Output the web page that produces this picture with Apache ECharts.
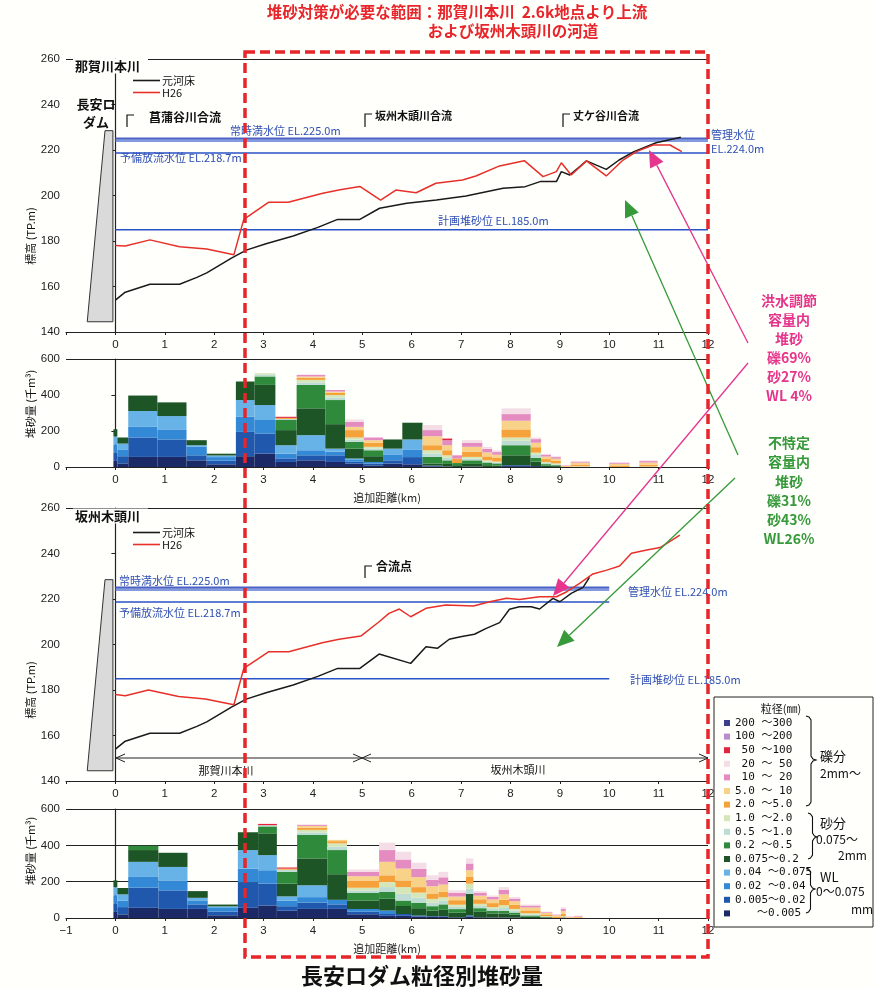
<!DOCTYPE html>
<html><head><meta charset="utf-8">
<script src="https://cdn.jsdelivr.net/npm/echarts/dist/echarts.min.js"></script>
<style>html,body{margin:0;padding:0;background:#fffffb}#main{width:875px;height:989px}</style>
</head><body><div id="main"></div>
<script>
// ---------------- data ----------------
const kmTicks = [-1,0,1,2,3,4,5,6,7,8,9,10,11,12];
const elevTicks = [140,160,180,200,220,240,260];
const volTicks = [0,200,400,600];

// 那賀川本川 profile [km, EL]
const nakaOrigBed = [[0,154],[0.2,157.5],[0.7,161],[1.3,161],[1.65,164],[1.85,166],[2.35,172.5],[2.65,176],[3.05,178.8],[3.6,182.2],[4.1,186],[4.5,189.5],[4.95,189.5],[5.35,194.4],[5.9,196.6],[6.5,198],[7.1,199.8],[7.85,203.2],[8.3,203.9],[8.6,206.1],[8.93,206.1],[9.03,210.5],[9.2,209],[9.54,215.2],[9.94,211.5],[10.2,215.6],[10.5,219.3],[10.95,223.2],[11.45,225.6]];
const nakaH26 = [[0,178],[0.2,177.8],[0.7,180.5],[1.3,177.5],[1.85,176.5],[2.4,174],[2.6,189.5],[3.1,197],[3.5,197],[4.2,201],[4.55,202.5],[4.95,204],[5.37,198],[5.68,202.4],[6.09,201.2],[6.49,205.4],[7.03,206.8],[7.3,208.6],[7.78,213],[8.28,215.3],[8.66,208.3],[8.93,210.5],[9.03,214.4],[9.23,209],[9.54,215.2],[9.94,208.6],[10.28,215.6],[10.55,219.3],[10.89,222.2],[11.23,222.2],[11.47,219.3]];
// 坂州木頭川 profile [km, EL]
const sakaOrigBed = [[0,154],[0.2,157.5],[0.7,161],[1.3,161],[1.65,164],[1.85,166],[2.35,172.5],[2.65,176],[3.05,178.8],[3.6,182.2],[4.1,186],[4.5,189.5],[4.95,189.5],[5.34,195.8],[5.98,191.7],[6.29,199],[6.52,198.3],[6.76,202.3],[6.99,203.4],[7.27,204.5],[7.51,207.1],[7.78,209.6],[7.98,215.5],[8.18,216.6],[8.42,216.6],[8.59,215.6],[8.86,220.3],[9.0,218.8],[9.23,222.5],[9.47,225.1],[9.6,229.5]];
const sakaH26 = [[0,178],[0.2,177.5],[0.67,180],[1.28,177.1],[1.82,176],[2.4,173.5],[2.6,189.5],[3.1,196.8],[3.51,196.8],[4.19,200.8],[4.53,202.3],[4.97,203.7],[5.34,210],[5.54,213.7],[5.75,215.6],[5.98,212.2],[6.29,215.9],[6.69,217.4],[7.25,216.9],[7.58,218.8],[7.92,220.3],[8.18,219.8],[8.59,221],[8.93,221],[9.14,223.2],[9.4,226.9],[9.67,231],[9.95,232.7],[10.21,234.5],[10.45,240.1],[10.76,241.5],[11.03,242.6],[11.43,248.1]];

// water levels (EL) : 常時満水位, 管理水位, 予備放流水位, 計画堆砂位
const levelEl = [225.0, 224.0, 218.7, 185.0];
const nakaLevelSpan = [0, 12];
const sakaLevelSpan = [0, 10];

// dam outline [km, EL]
const damOutline = [[-0.57,144.5],[-0.05,144.5],[-0.05,228.5],[-0.21,228.5]];

// grain classes, bottom of stack -> top
const grainLabels = ['　　～0.005','0.005～0.02','0.02 ～0.04','0.04 ～0.075','0.075～0.2','0.2 ～0.5','0.5 ～1.0','1.0 ～2.0','2.0 ～5.0','5.0 ～ 10',' 10 ～ 20',' 20 ～ 50',' 50 ～100','100 ～200','200 ～300'];

// 那賀川本川 sediment bars: section edges [km0, km1] and volumes (千m3) per grain class
const nakaEdges = [[-0.04,0.04],[0.04,0.26],[0.26,0.85],[0.85,1.44],[1.44,1.85],[1.85,2.44],[2.44,2.82],[2.82,3.24],[3.24,3.67],[3.67,4.25],[4.25,4.65],[4.65,5.03],[5.03,5.42],[5.42,5.81],[5.81,6.22],[6.22,6.62],[6.62,6.82],[6.82,7.02],[7.02,7.43],[7.43,7.63],[7.63,7.82],[7.82,8.41],[8.41,8.62],[8.62,8.82],[8.82,9.02],[9.02,9.22],[9.22,9.61],[10.0,10.41],[10.61,10.98]];
const nakaVolumes = [
[35,45,45,45,40,0,0,0,0,0,0,0,0,0,0],
[20,40,35,35,34,0,0,0,0,0,0,0,0,0,0],
[56,108,59,88,86,0,0,0,0,0,0,0,0,0,0],
[56,97,56,74,76,0,0,0,0,0,0,0,0,0,0],
[37,28,47,9,28,0,0,0,0,0,0,0,0,0,0],
[15,20,20,9,10,0,0,0,0,0,0,0,0,0,0],
[60,135,84,93,103,0,0,0,0,0,0,0,0,0,0],
[74,112,75,83,112,47,10,8,0,0,0,0,0,0,0],
[28,20,26,47,84,56,6,0,6,0,0,0,6,0,0],
[37,28,28,84,149,130,14,14,12,7,9,0,0,0,0],
[28,37,20,17,136,134,14,14,12,7,9,0,0,0,0],
[19,10,10,8,55,38,12,12,41,18,28,13,0,0,0],
[9,10,9,0,32,33,10,9,22,15,15,0,0,0,0],
[19,18,30,35,51,0,0,0,0,0,0,0,0,0,0],
[15,40,40,58,93,0,0,0,0,0,0,0,0,0,0],
[4,4,0,0,11,37,19,18,28,50,34,28,0,0,0],
[3,0,0,0,14,20,14,14,28,28,28,0,9,0,0],
[0,0,0,0,10,12,0,0,25,0,18,0,0,0,0],
[3,0,0,0,14,20,10,9,28,28,22,15,0,0,0],
[0,0,0,0,10,15,6,6,22,22,20,11,0,0,0],
[0,0,0,0,8,12,5,5,20,18,15,10,0,0,0],
[5,5,0,0,55,56,25,18,45,48,37,32,0,0,0],
[5,0,0,0,25,20,20,10,30,25,20,9,0,0,0],
[0,0,0,0,8,8,6,6,16,14,10,6,0,0,0],
[0,0,0,0,5,5,5,5,14,12,9,5,0,0,0],
[0,0,0,0,0,0,0,0,4,3,2,0,0,0,0],
[0,0,0,0,0,0,0,4,10,10,6,4,0,0,0],
[0,0,0,0,0,0,0,0,8,10,6,4,0,0,0],
[0,0,0,0,0,0,0,3,10,12,8,4,0,0,0]];

// 坂州木頭川 sediment bars
const sakaEdges = [[-0.04,0.04],[0.04,0.26],[0.26,0.87],[0.87,1.46],[1.46,1.87],[1.87,2.48],[2.48,2.89],[2.89,3.27],[3.27,3.68],[3.68,4.29],[4.29,4.69],[4.69,5.34],[5.34,5.67],[5.67,5.99],[5.99,6.3],[6.3,6.54],[6.54,6.74],[6.74,7.1],[7.1,7.25],[7.25,7.52],[7.52,7.76],[7.76,7.97],[7.97,8.2],[8.2,8.61],[8.61,8.85],[8.85,9.02],[9.02,9.12],[9.12,9.29],[9.29,9.46]];
const sakaVolumes = [
[35,45,45,45,37,0,0,0,0,0,0,0,0,0,0],
[20,40,35,35,35,0,0,0,0,0,0,0,0,0,0],
[56,111,59,83,65,24,0,0,0,0,0,0,0,0,0],
[50,102,55,74,78,0,0,0,0,0,0,0,0,0,0],
[50,25,22,14,37,0,0,0,0,0,0,0,0,0,0],
[15,20,20,9,10,0,0,0,0,0,0,0,0,0,0],
[56,142,74,102,98,0,0,0,0,0,0,0,0,0,0],
[69,120,74,83,120,38,7,0,0,0,0,0,7,0,0],
[40,25,30,24,70,65,12,0,6,0,0,0,6,0,0],
[50,35,30,65,148,129,14,14,12,10,6,0,0,0,0],
[50,25,25,0,141,133,19,18,12,7,0,0,0,0,0],
[20,15,15,0,46,41,15,15,40,23,24,13,0,0,0],
[12,10,19,0,65,37,27,28,37,74,65,41,0,0,0],
[12,10,0,0,44,30,37,37,37,65,50,43,0,0,0],
[8,6,0,0,40,30,28,28,30,55,45,34,0,0,0],
[6,4,0,0,30,25,20,20,30,40,35,25,0,0,0],
[6,4,0,0,35,30,20,19,30,40,40,30,0,0,0],
[4,0,0,0,25,20,12,12,25,20,20,14,0,0,0],
[8,6,0,0,119,0,28,28,37,37,37,28,0,0,0],
[4,0,0,0,30,20,12,12,25,20,15,10,0,0,0],
[3,0,0,0,22,15,10,10,22,20,14,8,0,0,0],
[3,0,0,0,22,15,15,15,30,30,25,15,0,0,0],
[3,0,0,0,15,12,10,10,22,20,15,8,0,0,0],
[0,0,0,0,8,6,6,6,16,16,10,6,0,0,0],
[0,0,0,0,3,3,0,4,10,8,4,3,0,0,0],
[0,0,0,0,0,0,0,0,8,7,4,3,0,0,0],
[0,0,0,0,3,0,0,6,15,15,12,8,0,0,0],
[0,0,0,0,0,0,0,0,3,2,2,0,0,0,0],
[0,0,0,0,0,0,0,0,4,4,3,2,0,0,0]];

// ---------------- styles ----------------
const grainColors = ['#1b2a66','#1f58ad','#3389d6','#67b2e6','#1d5527','#2f8a3c','#bcdcd4','#d5e6b8','#f5a23a','#f9d28a','#e48cc0','#f4dde6','#e2243c','#b98ccc','#3b3d8f'];
const levelStyles = [{w:2.2,c:'#4a62c4'},{w:1.5,c:'#5a78d6'},{w:1.5,c:'#2a52c8'},{w:1.5,c:'#2a52c8'}];
const JP = "'Noto Sans CJK JP', sans-serif";
const BLUE_TXT = '#2f4fb4';

const chart = echarts.init(document.getElementById('main'), null, {renderer:'canvas'});

const gridBoxes = [
  {left:66, right:167, top:59, height:273},
  {left:66, right:167, top:359, height:108},
  {left:66, right:167, top:508, height:273},
  {left:66, right:167, top:809, height:109}
];

function xAxisFor(i){
  const isBar = (i===1 || i===3);
  return {
    type:'value', gridIndex:i, min:kmTicks[0], max:kmTicks[kmTicks.length-1], interval:1,
    axisLine:{lineStyle:{color:'#222', width:1.2}},
    axisTick:{length:3, lineStyle:{color:'#222'}},
    axisLabel:{fontSize:11.5, color:'#222', margin:7, fontFamily:'Liberation Sans',
      formatter: v => (i<3 && v===-1) ? '' : (v===-1 ? '−1' : String(v))},
    splitLine:{show:false},
    name: isBar ? '追加距離(km)' : '', nameLocation:'middle', nameGap:25,
    nameTextStyle:{fontSize:11, color:'#222', fontFamily:JP}
  };
}
function yAxisFor(i){
  const isBar = (i===1 || i===3);
  const ticks = isBar ? volTicks : elevTicks;
  let split;
  if (i===3) split = ['rgba(0,0,0,0)','#222','#222','#222'];
  else split = ticks.map((t,k)=> k===ticks.length-1 ? '#222' : 'rgba(0,0,0,0)');
  return {
    type:'value', gridIndex:i, min:ticks[0], max:ticks[ticks.length-1], interval:ticks[1]-ticks[0],
    axisLine:{show:true, lineStyle:{color:'#222', width:1.2}},
    axisTick:{show:true, length:4, lineStyle:{color:'#222'}},
    axisLabel:{fontSize:11.5, color:'#222', margin:6, fontFamily:'Liberation Sans'},
    splitLine:{show:true, lineStyle:{color:split, width:1.2}}
  };
}

function renderBar(params, api){
  const p0 = api.coord([api.value(0), api.value(3)]);
  const p1 = api.coord([api.value(1), api.value(2)]);
  return {type:'rect', shape:{x:p0[0], y:p0[1], width:p1[0]-p0[0], height:p1[1]-p0[1]},
          style:{fill: api.visual('color')}};
}
function grainSeries(edges, vols, gi){
  const out = [];
  for (let c=0; c<grainLabels.length; c++){
    const data = [];
    edges.forEach((e, b) => {
      let base = 0;
      for (let k=0;k<c;k++) base += vols[b][k];
      const v = vols[b][c];
      if (v>0) data.push([e[0], e[1], base, base+v]);
    });
    out.push({type:'custom', name:grainLabels[c], xAxisIndex:gi, yAxisIndex:gi,
      itemStyle:{color:grainColors[c]}, renderItem:renderBar, silent:true,
      encode:{x:[0,1], y:[2,3]}, data});
  }
  return out;
}
function profileSeries(orig, h26, span, gi){
  const s = [];
  levelEl.forEach((el,k)=>{
    s.push({type:'line', name:'level'+k, xAxisIndex:gi, yAxisIndex:gi, symbol:'none', silent:true,
      lineStyle:{color:levelStyles[k].c, width:levelStyles[k].w}, data:[[span[0],el],[span[1],el]], z:2});
  });
  s.push({type:'custom', name:'dam', xAxisIndex:gi, yAxisIndex:gi, silent:true, data:[[0,200]],
    renderItem:(p, api)=>({type:'polygon', shape:{points:damOutline.map(pt=>api.coord(pt))},
      style:{fill:'#dadada', stroke:'#333', lineWidth:1}})});
  s.push({type:'line', name:'元河床', xAxisIndex:gi, yAxisIndex:gi, symbol:'none', data:orig,
    lineStyle:{color:'#1a1a1a', width:1.5}, itemStyle:{color:'#1a1a1a'}, z:3});
  s.push({type:'line', name:'H26', xAxisIndex:gi, yAxisIndex:gi, symbol:'none', data:h26,
    lineStyle:{color:'#e8302a', width:1.5}, itemStyle:{color:'#e8302a'}, z:4});
  return s;
}

// --------- annotation graphics ---------
function txt(x,y,text,o){
  o = o||{};
  const st = {text, fill:o.color||'#111',
    font:(o.bold?'bold ':'')+(o.size||11)+'px '+(o.font||JP), align:o.align||'left',
    verticalAlign:'middle'};
  if (o.bg) { st.backgroundColor = o.bg; st.padding = o.pad; }
  return {type:'text', x, y, z:60, rotation:o.rot||0, style:st};
}
function pline(points, color, w){
  return {type:'polyline', z:60, shape:{points}, style:{stroke:color||'#111', lineWidth:w||1.2, fill:null}};
}
function arrow(x1,y1,x2,y2,color){
  const a = Math.atan2(y2-y1, x2-x1), L=17, W=7.5;
  const bx = x2-L*Math.cos(a), by = y2-L*Math.sin(a);
  const px = -Math.sin(a)*W, py = Math.cos(a)*W;
  return [
    {type:'line', z:70, shape:{x1,y1,x2:bx,y2:by}, style:{stroke:color, lineWidth:1.3}},
    {type:'polygon', z:70, shape:{points:[[x2,y2],[bx+px,by+py],[bx-px,by-py]]}, style:{fill:color}}
  ];
}
function brace(x, y1, y2, ym, w){
  const m = x + w/2, t = x + w;
  return pline([[x,y1],[m-2,y1+1],[m,y1+4],[m,ym-4],[m+2,ym-1],[t,ym],[m+2,ym+1],[m,ym+4],[m,y2-4],[m-2,y2-1],[x,y2]], '#111', 1.1);
}

const PINK = '#e5358c', GREEN = '#36993a', RED = '#e8252a';
const graphics = [
  txt(457, 12, '堆砂対策が必要な範囲：那賀川本川  2.6k地点より上流', {color:RED, bold:true, size:15.5, align:'center'}),
  txt(513, 31, 'および坂州木頭川の河道', {color:RED, bold:true, size:15.5, align:'center'}),
  txt(73, 66, '那賀川本川', {bold:true, size:13, bg:'#fffffb', pad:[1,8,1,2]}),
  txt(73, 516, '坂州木頭川', {bold:true, size:13, bg:'#fffffb', pad:[1,8,1,2]}),
  txt(31, 236, '標高 (TP.m)', {size:11, align:'center', rot:Math.PI/2}),
  txt(31, 690, '標高 (TP.m)', {size:11, align:'center', rot:Math.PI/2}),
  txt(31, 404, '堆砂量 (千m³)', {size:11, align:'center', rot:Math.PI/2}),
  txt(31, 851, '堆砂量 (千m³)', {size:11, align:'center', rot:Math.PI/2}),
  txt(96, 104, '長安ロ', {bold:true, size:13, align:'center'}),
  txt(96, 122, 'ダム', {bold:true, size:13, align:'center'}),
  pline([[127,127],[127,115],[134,115]]), txt(149, 117, '菖蒲谷川合流', {bold:true, size:12}),
  pline([[365,127],[365,114],[372,114]]), txt(375, 116, '坂州木頭川合流', {bold:true, size:11}),
  pline([[563,127],[563,114],[570,114]]), txt(573, 116, '丈ケ谷川合流', {bold:true, size:11}),
  pline([[365,578],[365,566],[372,566]]), txt(376, 566, '合流点', {bold:true, size:12}),
  txt(230, 131, '常時満水位 EL.225.0m', {color:BLUE_TXT, size:11}),
  txt(120, 158, '予備放流水位 EL.218.7m', {color:BLUE_TXT, size:11}),
  txt(711, 135, '管理水位', {color:BLUE_TXT, size:11}),
  txt(711, 149, 'EL.224.0m', {color:BLUE_TXT, size:11}),
  txt(438, 221, '計画堆砂位 EL.185.0m', {color:BLUE_TXT, size:11}),
  txt(119, 581, '常時満水位 EL.225.0m', {color:BLUE_TXT, size:11}),
  txt(119, 613, '予備放流水位 EL.218.7m', {color:BLUE_TXT, size:11}),
  txt(628, 592, '管理水位 EL.224.0m', {color:BLUE_TXT, size:11}),
  txt(630, 680, '計画堆砂位 EL.185.0m', {color:BLUE_TXT, size:11}),
  pline([[116,758],[708,758]], '#222', 1),
  pline([[125,754],[116,758],[125,762]], '#222', 1),
  pline([[353,754],[362,758],[353,762]], '#222', 1),
  pline([[371,754],[362,758],[371,762]], '#222', 1),
  pline([[699,754],[708,758],[699,762]], '#222', 1),
  txt(226, 771, '那賀川本川', {size:11, align:'center'}),
  txt(518, 770, '坂州木頭川', {size:11, align:'center'}),
  txt(789, 301, '洪水調節', {color:PINK, bold:true, size:14, align:'center'}),
  txt(789, 320, '容量内', {color:PINK, bold:true, size:14, align:'center'}),
  txt(789, 339, '堆砂', {color:PINK, bold:true, size:14, align:'center'}),
  txt(789, 358, '礫69%', {color:PINK, bold:true, size:14, align:'center'}),
  txt(789, 377, '砂27%', {color:PINK, bold:true, size:14, align:'center'}),
  txt(789, 396, 'WL 4%', {color:PINK, bold:true, size:14, align:'center'}),
  txt(789, 443, '不特定', {color:GREEN, bold:true, size:14, align:'center'}),
  txt(789, 462, '容量内', {color:GREEN, bold:true, size:14, align:'center'}),
  txt(789, 482, '堆砂', {color:GREEN, bold:true, size:14, align:'center'}),
  txt(789, 501, '礫31%', {color:GREEN, bold:true, size:14, align:'center'}),
  txt(789, 520, '砂43%', {color:GREEN, bold:true, size:14, align:'center'}),
  txt(789, 539, 'WL26%', {color:GREEN, bold:true, size:14, align:'center'}),
  ...arrow(748, 343, 649, 150, PINK),
  ...arrow(748, 363, 553, 596, PINK),
  ...arrow(738, 455, 625, 200, GREEN),
  ...arrow(735, 478, 557, 647, GREEN),
  {type:'rect', z:40, shape:{x:714, y:697, width:159, height:230}, style:{fill:'#fffffb', stroke:'#222', lineWidth:1}},
  txt(781, 709, '粒径(㎜)', {size:11, align:'center'}),
  brace(806, 716, 806, 760, 10),
  brace(808, 813, 859, 837, 9),
  brace(806, 868, 913, 889, 9),
  txt(820, 756, '礫分', {size:13}),
  txt(820, 773, '2mm～', {size:12}),
  txt(820, 823, '砂分', {size:13}),
  txt(816, 839, '0.075～', {size:12}),
  txt(838, 855, '2mm', {size:12}),
  txt(820, 877, 'WL', {size:13}),
  txt(816, 891, '0～0.075', {size:12}),
  txt(851, 909, 'mm', {size:12}),
  {type:'rect', z:80, shape:{x:245, y:52, width:463, height:905},
    style:{fill:null, stroke:RED, lineWidth:3.5, lineDash:[10,5]}},
  txt(422, 976, '長安ロダム粒径別堆砂量', {bold:true, size:22, align:'center'})
];

const option = {
  backgroundColor:'#fffffb',
  animation:false,
  grid: gridBoxes,
  xAxis: [0,1,2,3].map(xAxisFor),
  yAxis: [0,1,2,3].map(yAxisFor),
  legend: [
    {data:['元河床','H26'], left:128, top:70, orient:'vertical', icon:'rect', itemWidth:27, itemHeight:1.6, itemGap:1,
     textStyle:{fontSize:11, fontFamily:JP, color:'#111', padding:[0,0,0,-3]}, selectedMode:false},
    {data:['元河床','H26'], left:128, top:522, orient:'vertical', icon:'rect', itemWidth:27, itemHeight:1.6, itemGap:1,
     textStyle:{fontSize:11, fontFamily:JP, color:'#111', padding:[0,0,0,-3]}, selectedMode:false},
    {data:grainLabels.slice().reverse(), left:719, top:712, orient:'vertical', itemWidth:6, itemHeight:6, itemGap:1.6,
     icon:'rect', z:50, selectedMode:false,
     textStyle:{fontSize:11, lineHeight:12, fontFamily:"'DejaVu Sans Mono','Noto Sans CJK JP'", color:'#111'}}
  ],
  series: [
    ...profileSeries(nakaOrigBed, nakaH26, nakaLevelSpan, 0),
    ...grainSeries(nakaEdges, nakaVolumes, 1),
    ...profileSeries(sakaOrigBed, sakaH26, sakaLevelSpan, 2),
    ...grainSeries(sakaEdges, sakaVolumes, 3)
  ],
  graphic: graphics
};
chart.setOption(option);
</script></body></html>
